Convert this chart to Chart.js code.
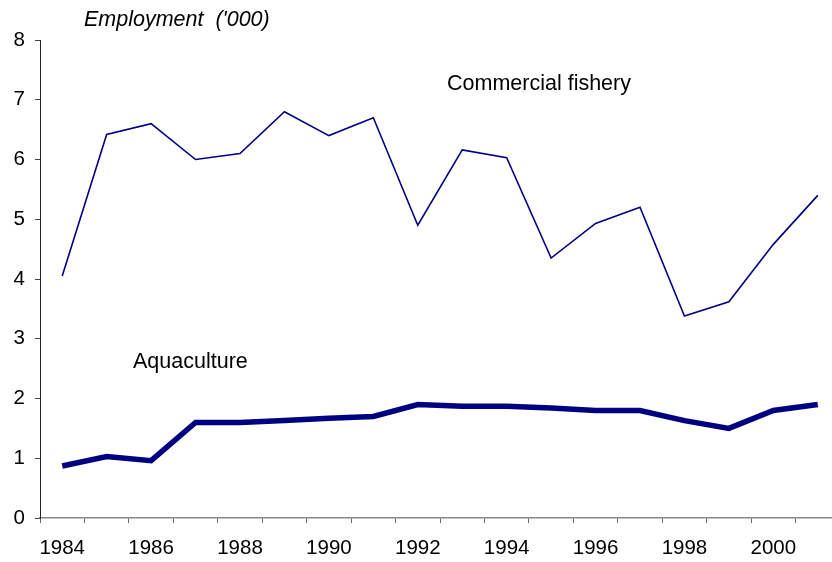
<!DOCTYPE html>
<html>
<head>
<meta charset="utf-8">
<script src="https://cdn.jsdelivr.net/npm/chart.js@4/dist/chart.umd.min.js"></script>
<style>
  html, body { margin: 0; padding: 0; background: #fff; overflow: hidden; }
  #wrap { width: 840px; height: 562px; position: relative; }
</style>
</head>
<body>
<div id="wrap"><canvas id="chart"></canvas></div>
<script>
// years on the x axis
const years = [1984, 1985, 1986, 1987, 1988, 1989, 1990, 1991, 1992,
  1993, 1994, 1995, 1996, 1997, 1998, 1999, 2000, 2001];

// employment ('000)
const commercialFishery = [4.05, 6.42, 6.6, 6.0, 6.1, 6.8, 6.4, 6.7, 4.9,
  6.16, 6.03, 4.35, 4.93, 5.2, 3.38, 3.62, 4.58, 5.4];
const aquaculture = [0.87, 1.03, 0.96, 1.6, 1.6, 1.63, 1.67, 1.7, 1.9,
  1.87, 1.87, 1.84, 1.8, 1.8, 1.63, 1.5, 1.8, 1.9];

const yTicks = [0, 1, 2, 3, 4, 5, 6, 7, 8];

const navy = "#000080";
const font = "Liberation Sans, Arial, sans-serif";

// text labels drawn on top of the chart
const textLabels = {
  id: "textLabels",
  afterDraw(chart) {
    const c = chart.ctx;
    c.save();
    c.fillStyle = "#000";
    c.textBaseline = "alphabetic";
    c.textAlign = "left";
    c.font = "italic 21.5px " + font;
    c.fillText("Employment  ('000)", 84, 26);
    c.font = "21.5px " + font;
    c.fillText("Commercial fishery", 447, 90);
    c.fillText("Aquaculture", 133, 368);
    c.restore();
  }
};

new Chart(document.getElementById("chart"), {
  type: "line",
  data: {
    labels: years.map(String),
    datasets: [
      {
        label: "Commercial fishery",
        data: commercialFishery,
        borderColor: navy,
        borderWidth: 1.6,
        pointRadius: 0,
        tension: 0,
        fill: false
      },
      {
        label: "Aquaculture",
        data: aquaculture,
        borderColor: navy,
        borderWidth: 5.5,
        pointRadius: 0,
        tension: 0,
        fill: false
      }
    ]
  },
  options: {
    responsive: true,
    maintainAspectRatio: false,
    animation: false,
    layout: { padding: { top: 40, right: 0, left: 0, bottom: 0 } },
    plugins: {
      legend: { display: false },
      tooltip: { enabled: false },
      title: { display: false }
    },
    scales: {
      x: {
        type: "category",
        offset: true,
        grid: {
          offset: true,
          drawOnChartArea: false,
          drawTicks: true,
          tickLength: 5,
          color: "#666"
        },
        border: { color: "#888", width: 1.5 },
        ticks: {
          autoSkip: false,
          maxRotation: 0,
          padding: 13,
          color: "#000",
          font: { family: font, size: 20.5 },
          callback(value, index) {
            const y = years[index];
            return y % 2 === 0 ? String(y) : "";
          }
        },
        afterFit(scale) { scale.height = 44; }
      },
      y: {
        min: 0,
        max: 8,
        grid: {
          drawOnChartArea: false,
          drawTicks: true,
          tickLength: 5,
          color: "#444"
        },
        border: { color: "#222", width: 1 },
        afterBuildTicks(scale) {
          scale.ticks = yTicks.map(v => ({ value: v }));
        },
        ticks: {
          padding: 10,
          color: "#000",
          font: { family: font, size: 20.5 }
        },
        afterFit(scale) { scale.width = 40; }
      }
    }
  },
  plugins: [textLabels]
});
</script>
</body>
</html>
